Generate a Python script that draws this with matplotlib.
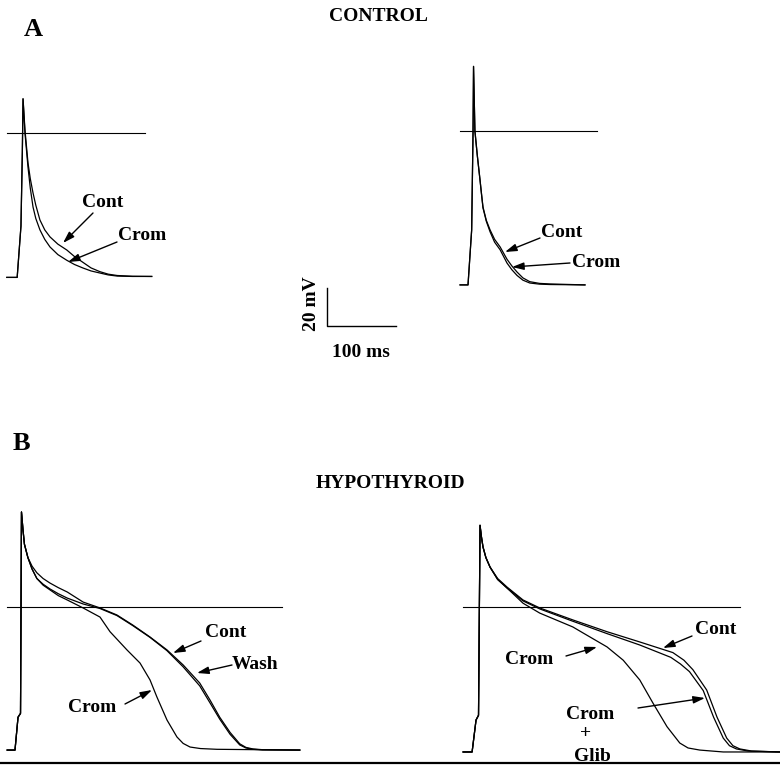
#!/usr/bin/env python3
"""Action potentials, control vs hypothyroid, with cromakalim / glibenclamide."""
import numpy as np
import matplotlib
matplotlib.use("Agg")
import matplotlib.pyplot as plt

W, H = 780, 766
PX_PER_MS = 0.69   # 100 ms scale bar = 69 px
PX_PER_MV = 1.9    # 20 mV scale bar = 38 px

plt.rcParams["font.family"] = ["Liberation Serif", "DejaVu Serif"]
plt.rcParams["font.weight"] = "bold"

# ---- A, left cell (control) : time in ms, voltage in mV
a1_up_t = [-22, -7, -1.5, 0.5, 1.5]
a1_up_v = [-76, -76, -49, -10, 18]
a1_t = [4.3, 8.7, 12, 16, 20, 26, 33, 40.6, 52, 65, 76, 88, 100, 113, 125,
        138, 160, 188]
a1_cont = [1.6, -15.8, -24, -31.6, -38, -45.8, -51, -54.7, -58.5, -61.6, -65,
           -68, -71, -73, -74.3, -75, -75.4, -75.5]
a1_crom = [0, -18, -29, -39, -45, -51, -56, -60, -64, -67, -69.2, -71, -72.6,
           -73.7, -74.7, -75.3, -75.5, -75.5]
a1_zero = [-22, 178]

# ---- A, right cell (control)
a2_up_t = [-18, -6.5, -1.2, 0.8, 1.5]
a2_up_v = [-81, -81, -52, 0, 34]
a2_t = [3.5, 7, 10.9, 13, 15.2, 20, 25.4, 32, 40, 50, 57, 64.5, 73, 83, 97,
        112, 163]
a2_cont = [0, -13, -25.8, -33, -40, -47, -52, -57, -61, -67.5, -71, -74.2,
           -77.3, -79.3, -80.2, -80.5, -81]
a2_crom = [0, -13, -25.8, -33, -40.5, -47.5, -53, -58.5, -62.5, -69.5, -73,
           -76, -78.5, -80, -80.6, -80.8, -81]
a2_zero = [-18, 181]

# ---- B, left cell (hypothyroid)
b1_up_t = [-20, -8.7, -4.3, -0.7, 0.7]
b1_up_v = [-75.3, -75.3, -58, -56, 50]
b1_t = [2.9, 5, 10, 16, 23, 32, 42, 54, 67, 90, 114.5, 139, 162, 187, 211.6,
        235, 259, 274, 288, 303, 317, 326, 336, 350, 404]
b1_cont = [40.5, 33, 26, 21.5, 18, 15, 12.6, 10.2, 7.9, 2.6, -0.5, -4.2, -9.5,
           -15.8, -22.6, -30.5, -40, -49, -58, -66, -72, -73.9, -74.7, -75.1,
           -75.3]
b1_wash = [40.5, 33, 26, 20, 15, 12, 9.5, 7, 4.7, 1.6, -0.8, -4.5, -9.8, -16,
           -23, -31.5, -41.5, -50.5, -59, -67, -72.6, -74.2, -74.9, -75.2,
           -75.3]
b1_crom_t = [2.9, 5, 10, 16, 23, 32, 42, 54, 67, 90, 114.5, 129, 153.6, 172.5,
             187, 197, 211.6, 226, 235, 245, 260, 284, 404]
b1_crom = [40.5, 33, 26, 20, 15, 11.5, 9, 6, 3.7, -0.5, -5.3, -13, -22.6,
           -29.5, -38.4, -47.4, -59.5, -68.4, -71.8, -73.7, -74.5, -74.9,
           -75.3]
b1_zero = [-20, 378]

# ---- B, right cell (hypothyroid)
b2_up_t = [-23, -10, -4.3, -0.7, 1.5]
b2_up_v = [-76.3, -76.3, -59.5, -57, 43]
b2_cont_t = [3.5, 5.8, 10, 16, 27, 40.6, 63.8, 88, 136, 185.5, 233, 281, 297,
             310, 330, 345, 359, 368, 378, 395, 436]
b2_cont = [37, 31.6, 26, 21, 15, 10.5, 3.7, -0.5, -6.8, -13, -18.4, -24, -28,
           -33, -43.7, -58, -69, -73, -74.7, -75.8, -76.3]
b2_glib_t = [3.5, 5.8, 10, 16, 27, 40.6, 63.8, 88, 136, 185.5, 233, 278, 292,
             305, 325, 340, 354, 363, 373, 390, 436]
b2_glib = [37, 31.6, 26, 21, 14.5, 10, 3.2, -1, -7.5, -14, -20, -26.5, -30,
           -34, -44, -58, -69, -73, -74.7, -75.8, -76.3]
b2_crom_t = [3.5, 5.8, 10, 16, 27, 40.6, 63.8, 88, 136, 151, 185.5, 209, 233,
             252, 272.5, 291, 303, 320, 354, 436]
b2_crom = [37, 31.6, 26, 21, 14.5, 10, 2, -3.2, -10.5, -13.7, -21, -28, -38.4,
           -50.5, -63, -71.6, -74.2, -75.3, -76.3, -76.3]
b2_zero = [-23, 378]

# scale bar
bar_ms = 100
bar_mv = 20


def panel_axes(fig, x0, y0):
    """Full-figure axes in ms / mV whose origin sits at pixel (x0, y0)."""
    ax = fig.add_axes([0, 0, 1, 1])
    ax.set_xlim(-x0 / PX_PER_MS, (W - x0) / PX_PER_MS)
    ax.set_ylim((y0 - H) / PX_PER_MV, y0 / PX_PER_MV)
    ax.axis("off")
    ax.patch.set_alpha(0)
    return ax


def trace(ax, up_t, up_v, t, v):
    ax.plot(np.concatenate([up_t, t]), np.concatenate([up_v, v]),
            color="black", lw=0.9, solid_joinstyle="round")


def zero_line(ax, span):
    ax.plot(span, [0, 0], color="black", lw=0.8)


fig = plt.figure(figsize=(W / 100, H / 100), dpi=100)

ax = panel_axes(fig, 22, 133)
trace(ax, a1_up_t, a1_up_v, a1_t, a1_cont)
trace(ax, a1_up_t, a1_up_v, a1_t, a1_crom)
zero_line(ax, a1_zero)

ax = panel_axes(fig, 472.5, 131)
trace(ax, a2_up_t, a2_up_v, a2_t, a2_cont)
trace(ax, a2_up_t, a2_up_v, a2_t, a2_crom)
zero_line(ax, a2_zero)

ax = panel_axes(fig, 21, 607)
trace(ax, b1_up_t, b1_up_v, b1_t, b1_cont)
trace(ax, b1_up_t, b1_up_v, b1_t, b1_wash)
trace(ax, b1_up_t, b1_up_v, b1_crom_t, b1_crom)
zero_line(ax, b1_zero)

ax = panel_axes(fig, 479, 607)
trace(ax, b2_up_t, b2_up_v, b2_cont_t, b2_cont)
trace(ax, b2_up_t, b2_up_v, b2_glib_t, b2_glib)
trace(ax, b2_up_t, b2_up_v, b2_crom_t, b2_crom)
zero_line(ax, b2_zero)

ax = panel_axes(fig, 327, 326)
ax.plot([0, 0, bar_ms], [bar_mv, 0, 0], color="black", lw=1.0)

# ---- text and arrows in pixel space
px = fig.add_axes([0, 0, 1, 1])
px.set_xlim(0, W)
px.set_ylim(H, 0)
px.axis("off")
px.patch.set_alpha(0)

FS = 14
px.text(33, 36, "A", fontsize=19, ha="center", va="baseline")
px.text(21, 450, "B", fontsize=19, ha="center", va="baseline")
px.text(378, 21, "CONTROL", fontsize=FS, ha="center", va="baseline")
px.text(390, 488, "HYPOTHYROID", fontsize=FS, ha="center", va="baseline")
px.text(361, 357, "100 ms", fontsize=FS, ha="center", va="baseline")
px.text(312, 304, "20 mV", fontsize=FS, ha="center", va="center", rotation=90)

labels = [
    ("Cont", 103, 207), ("Crom", 142, 240),
    ("Cont", 562, 237), ("Crom", 596, 267),
    ("Cont", 226, 637), ("Wash", 255, 669), ("Crom", 92, 712),
    ("Cont", 716, 634), ("Crom", 529, 664),
    ("Crom", 590, 719), ("+", 586, 738), ("Glib", 592, 761),
]
for s, x, y in labels:
    px.text(x, y, s, fontsize=FS, ha="center", va="baseline")

arrows = [
    ((93, 213), (63, 243)), ((117, 242), (68, 262)),
    ((540, 238), (505, 252)), ((570, 263), (512, 267)),
    ((201, 641), (173, 653)), ((232, 665), (197, 673)), ((125, 704), (152, 690)),
    ((692, 636), (663, 648)), ((566, 656), (597, 647)), ((638, 708), (705, 698)),
]
for start, tip in arrows:
    px.annotate("", xy=tip, xytext=start,
                arrowprops=dict(arrowstyle="-|>,head_length=0.7,head_width=0.22",
                                color="black", lw=1.0, shrinkA=0, shrinkB=0))

px.plot([0, W], [763, 763], color="black", lw=1.6)

fig.savefig("out.png", dpi=100)
